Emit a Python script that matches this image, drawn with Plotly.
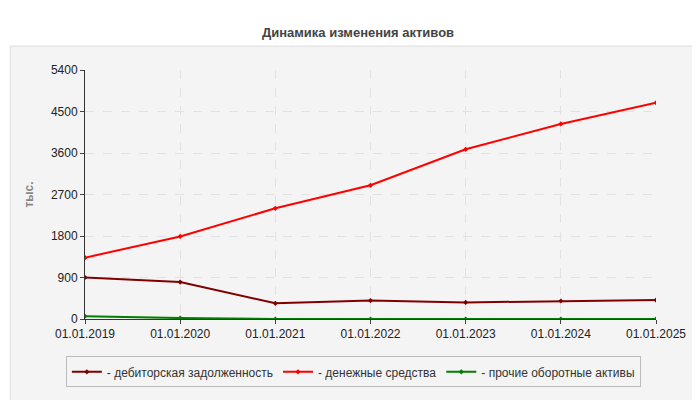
import plotly.graph_objects as go

dates = ["01.01.2019", "01.01.2020", "01.01.2021", "01.01.2022",
         "01.01.2023", "01.01.2024", "01.01.2025"]
receivables = [900, 800, 340, 400, 360, 390, 410]
cash = [1330, 1790, 2400, 2900, 3680, 4230, 4690]
other = [60, 20, 0, 0, 0, 0, 0]
y_ticks = [0, 900, 1800, 2700, 3600, 4500, 5400]

series = [
    ("дебиторская задолженность", receivables, "#800000"),
    ("денежные средства", cash, "#ff0000"),
    ("прочие оборотные активы", other, "#008000"),
]

fig = go.Figure()
for name, vals, color in series:
    fig.add_trace(go.Scatter(
        x=dates, y=vals, name="- " + name, mode="lines+markers",
        line=dict(color=color, width=2),
        marker=dict(color=color, size=4, symbol="diamond"),
    ))

# grey card behind the chart
fig.add_shape(type="rect", xref="paper", yref="paper",
              x0=-0.131, x1=1.088, y0=-0.337, y1=1.096,
              fillcolor="#f4f4f4", line=dict(color="#dddddd", width=1),
              layer="below")

fig.update_layout(
    width=700, height=400,
    margin=dict(l=77, r=52, t=62, b=89, autoexpand=False),
    paper_bgcolor="white", plot_bgcolor="#fcfcf6",
    font=dict(family="Arial", size=12, color="#222"),
    title=dict(text="<b>Динамика изменения активов</b>", x=0.5, y=0.95,
               xanchor="center", font=dict(size=13, color="#444")),
    showlegend=True,
    legend=dict(orientation="h", x=0.47, xanchor="center", y=-0.15, yanchor="top",
                bgcolor="#f4f4f4", bordercolor="#bbbbbb", borderwidth=1,
                font=dict(size=12, color="#333"), itemwidth=30,
                entrywidthmode="pixels", entrywidth=0),
    hovermode=False,
)
fig.update_xaxes(type="category", showgrid=True, gridcolor="#e2e2e2", griddash="dash",
                 showline=True, linecolor="#333", ticks="outside", ticklen=4,
                 range=[0, 6], automargin=False, tickfont=dict(size=12, color="#222"))
fig.update_yaxes(range=[0, 5400], tickvals=y_ticks, showgrid=True, gridcolor="#e2e2e2",
                 griddash="dash", showline=True, linecolor="#333", ticks="outside",
                 ticklen=4, zeroline=False, automargin=False,
                 title=dict(text="<b>тыс.</b>", font=dict(size=12, color="#888"), standoff=14),
                 tickfont=dict(size=12, color="#222"))

fig.write_html("out.html")
